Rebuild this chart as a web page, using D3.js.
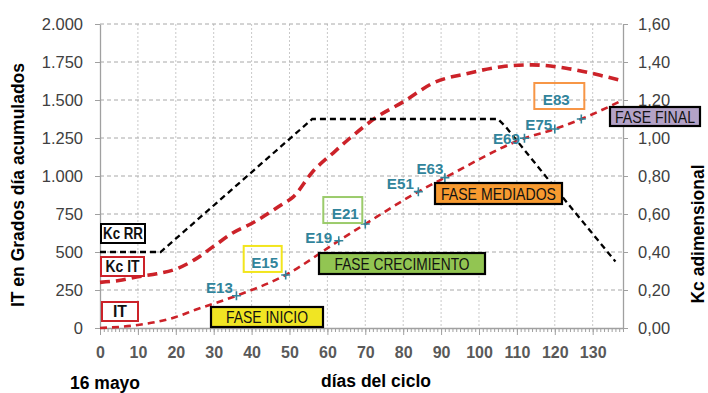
<!DOCTYPE html>
<html><head><meta charset="utf-8">
<script src="https://cdn.jsdelivr.net/npm/d3@7"></script>
<style>
html,body{margin:0;padding:0;background:#fff;}
svg{display:block;font-family:"Liberation Sans",Arial,sans-serif;}
</style></head>
<body><svg id="c" width="708" height="393"></svg>
<script>
// ---- data ----
const itDays   = [0, 10, 20, 25, 30, 36, 49, 63, 70, 84, 91, 112, 120, 127, 138];
const itValues = [0, 20, 72, 118, 160, 212, 349, 574, 684, 897, 989, 1248, 1309, 1375, 1500];

const kcItDays   = [0, 5, 10, 15, 20, 25, 30, 35, 40, 48, 51, 56, 62, 66, 73, 80, 88, 97, 106, 114, 123, 132, 138];
const kcItValues = [0.24, 0.25, 0.27, 0.285, 0.31, 0.36, 0.43, 0.50, 0.55, 0.65, 0.69, 0.82, 0.93, 1.00, 1.11, 1.19, 1.29, 1.34, 1.375, 1.385, 1.367, 1.33, 1.30];

const kcRrDays   = [0, 16, 56, 105, 107, 122, 136];
const kcRrValues = [0.40, 0.40, 1.10, 1.10, 1.06, 0.69, 0.35];

const stageLabels = ["E13", "E15", "E19", "E21", "E51", "E63", "E69", "E75", "E83"];
const stageDays   = [36, 49, 63, 70, 84, 91, 112, 120, 127];

const xTicks = [0,10,20,30,40,50,60,70,80,90,100,110,120,130];
const leftTicks = [0,250,500,750,1000,1250,1500,1750,2000];
const leftTickLabels = ["0","250","500","750","1.000","1.250","1.500","1.750","2.000"];
const rightTicks = [0,0.2,0.4,0.6,0.8,1.0,1.2,1.4,1.6];
const rightTickLabels = ["0,00","0,20","0,40","0,60","0,80","1,00","1,20","1,40","1,60"];

const phaseLabels = ["FASE INICIO","FASE CRECIMIENTO","FASE MEDIADOS","FASE FINAL"];

// ---- layout ----
const svg = d3.select("#c");
const L = 100, R = 623, T = 24, B = 328;
const x = d3.scaleLinear().domain([0,138]).range([L,R]);
const yL = d3.scaleLinear().domain([0,2000]).range([B,T]);
const yR = d3.scaleLinear().domain([0,1.6]).range([B,T]);

// grid
const g = svg.append("g");
g.selectAll("line.v").data(xTicks.filter(d=>d>0)).enter().append("line")
  .attr("x1",d=>x(d)).attr("x2",d=>x(d)).attr("y1",T).attr("y2",B)
  .attr("stroke","#c9c9c9").attr("stroke-width",1).attr("stroke-dasharray","2,2");
g.selectAll("line.h").data(leftTicks.filter(d=>d>0)).enter().append("line")
  .attr("x1",L).attr("x2",R).attr("y1",d=>yL(d)).attr("y2",d=>yL(d))
  .attr("stroke","#a8a8a8").attr("stroke-width",1).attr("stroke-dasharray","4,3");

// axes
const axisColor = "#a0a0a0";
const la = svg.append("g").attr("transform",`translate(${L},0)`)
  .call(d3.axisLeft(yL).tickValues(leftTicks).tickFormat((d,i)=>leftTickLabels[i]).tickSize(5).tickSizeOuter(0).tickPadding(12));
const ra = svg.append("g").attr("transform",`translate(${R},0)`)
  .call(d3.axisRight(yR).tickValues(rightTicks).tickFormat((d,i)=>rightTickLabels[i]).tickSize(5).tickSizeOuter(0).tickPadding(10));
const minor = d3.range(0,139,1);
svg.append("g").attr("transform",`translate(0,${B})`)
  .call(d3.axisBottom(x).tickValues(minor).tickFormat("").tickSize(4).tickSizeOuter(0))
  .call(s=>s.select(".domain").remove());
const ba = svg.append("g").attr("transform",`translate(0,${B})`)
  .call(d3.axisBottom(x).tickValues(xTicks).tickFormat(d3.format("d")).tickSize(7).tickSizeOuter(0).tickPadding(12));
[la,ra,ba].forEach(a=>{
  a.selectAll(".domain").attr("stroke",axisColor).attr("stroke-width",1.3);
});
svg.selectAll(".tick line").attr("stroke",axisColor);
la.selectAll("text").attr("font-size",16.5).attr("fill","#404040").attr("font-family","'Liberation Sans Narrow','Liberation Sans',Arial");
ra.selectAll("text").attr("font-size",16.5).attr("fill","#404040").attr("font-family","'Liberation Sans Narrow','Liberation Sans',Arial");
ba.selectAll("text").attr("font-size",16).attr("font-weight","bold").attr("fill","#595959");

// lines
const red = "#cc2229";
const lineIT = d3.line().x((d,i)=>x(itDays[i])).y(d=>yL(d)).curve(d3.curveMonotoneX);
svg.append("path").datum(itValues).attr("d",lineIT).attr("fill","none")
  .attr("stroke",red).attr("stroke-width",2.6).attr("stroke-dasharray","7,5");

const lineKcIt = d3.line().x((d,i)=>x(kcItDays[i])).y(d=>yR(d)).curve(d3.curveMonotoneX);
svg.append("path").datum(kcItValues).attr("d",lineKcIt).attr("fill","none")
  .attr("stroke",red).attr("stroke-width",3.6).attr("stroke-dasharray","10,6");

const lineRr = d3.line().x((d,i)=>x(kcRrDays[i])).y(d=>yR(d));
svg.append("path").datum(kcRrValues).attr("d",lineRr).attr("fill","none")
  .attr("stroke","#000").attr("stroke-width",2.3).attr("stroke-dasharray","6,4");

// stage crosses & labels
const teal = "#31849b";
const labelOffsets = [[-17,-3],[-21,-7],[-20,2],[-20,-5],[-18,-3],[-15,-4],[-18,6],[-16,1],[-25,-14]];
const boxColors = {"E15":"#f2e51d","E21":"#9bcb6b","E83":"#f79646"};
const boxExt = {"E15":[-21,17],"E21":[-22,17],"E83":[-22,28]};
stageDays.forEach((d,i)=>{
  const px = x(d), py = yL(itValues[itDays.indexOf(d)]);
  svg.append("path").attr("d",`M${px-4.5},${py}H${px+4.5}M${px},${py-4.5}V${py+4.5}`)
    .attr("stroke",teal).attr("stroke-width",1.6);
  const lx = px + labelOffsets[i][0], ly = py + labelOffsets[i][1];
  const lab = stageLabels[i];
  if (boxColors[lab]) {
    svg.append("rect").attr("x",lx+boxExt[lab][0]).attr("y",ly-22)
      .attr("width",boxExt[lab][1]-boxExt[lab][0]).attr("height",26)
      .attr("fill","none").attr("stroke",boxColors[lab]).attr("stroke-width",2);
  }
  svg.append("text").attr("x",lx).attr("y",ly).attr("text-anchor","middle")
    .attr("font-size",15).attr("font-weight","bold").attr("fill",teal)
    .attr("textLength",27).attr("lengthAdjust","spacingAndGlyphs").text(lab);
});

// legend-like labels
function labelBox(x0,y0,w,h,stroke,fill,txt,opts){
  svg.append("rect").attr("x",x0).attr("y",y0).attr("width",w).attr("height",h)
    .attr("fill",fill).attr("stroke",stroke).attr("stroke-width",opts.sw||2);
  const t = svg.append("text").attr("x",x0+w/2).attr("y",y0+h/2+opts.fs*0.36)
    .attr("text-anchor","middle").attr("font-size",opts.fs)
    .attr("font-weight",opts.bold?"bold":"normal").attr("fill","#111")
    .attr("font-family",opts.ff||"'Liberation Sans',Arial").text(txt);
  if (opts.tl) t.attr("textLength",opts.tl).attr("lengthAdjust","spacingAndGlyphs");
}
labelBox(101,224,44,19,"#000","#fff","Kc RR",{fs:16.5,bold:true,tl:40});
labelBox(101,257,43,19,red,"#fff","Kc IT",{fs:16.5,bold:true,tl:34});
labelBox(102,302,36,19,red,"#fff","IT",{fs:16.5,bold:true,tl:14});

const narrow = "'Liberation Sans Narrow','Liberation Sans',Arial";
labelBox(211,307,112,20,"#000","#f0e523",phaseLabels[0],{fs:17,ff:narrow,tl:82,sw:2.2});
labelBox(319,253,166,21,"#000","#92c552",phaseLabels[1],{fs:17,ff:narrow,tl:135,sw:2.2});
labelBox(435,183,127,21,"#000","#f79a30",phaseLabels[2],{fs:17,ff:narrow,tl:115,sw:2.2});
labelBox(610,107,90,19,"#000","#b3a2c7",phaseLabels[3],{fs:17,ff:narrow,tl:80,sw:2.2});

// axis titles
svg.append("text").attr("transform","translate(24,185) rotate(-90)").attr("text-anchor","middle")
  .attr("font-size",17.5).attr("font-weight","bold").attr("fill","#000").text("IT en Grados día acumulados");
svg.append("text").attr("transform","translate(704,234) rotate(-90)").attr("text-anchor","middle")
  .attr("font-size",17.5).attr("font-weight","bold").attr("fill","#000").text("Kc adimensional");
svg.append("text").attr("x",376).attr("y",387).attr("text-anchor","middle")
  .attr("font-size",17.5).attr("font-weight","bold").attr("fill","#000").text("días del ciclo");
svg.append("text").attr("x",70).attr("y",389)
  .attr("font-size",17.5).attr("font-weight","bold").attr("fill","#000").text("16 mayo");
</script></body></html>
